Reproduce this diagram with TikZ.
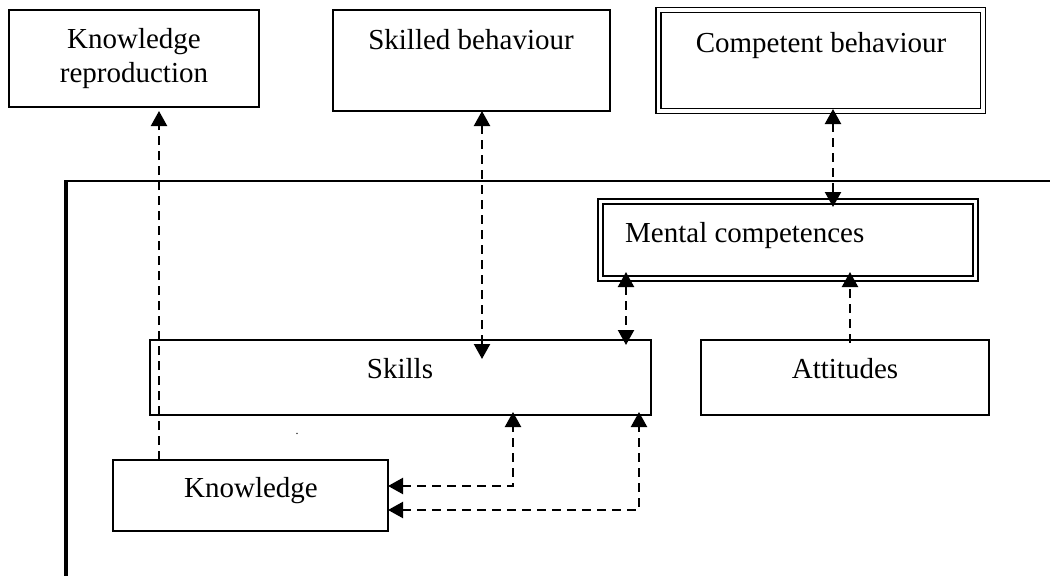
\documentclass[tikz,border=0pt]{standalone}
\usepackage{fontspec}
\setmainfont{Liberation Serif}
\usetikzlibrary{arrows.meta,calc}
\begin{document}
\begin{tikzpicture}[x=1pt,y=-1pt,
  box/.style={draw=black, line width=1.6pt, rectangle, inner sep=0pt, outer sep=0pt},
  dbox/.style={draw=black, double=white, double distance=3.2pt, line width=1.8pt, rectangle, inner sep=0pt, outer sep=0pt},
  lbl/.style={font=\fontsize{29}{34}\selectfont, inner sep=0pt, anchor=base, align=center},
  conn/.style={line width=2.2pt, dash pattern=on 9pt off 6pt, >={Triangle[width=16pt,length=15pt]}}
]
\useasboundingbox (0,0) rectangle (1050,576);

% boxes
\node[box, minimum width=250pt, minimum height=97pt] (kr) at (134,58.5) {};
\node[box, minimum width=277pt, minimum height=101pt] (sb) at (471.5,60.5) {};
\node[dbox, minimum width=324.6pt, minimum height=101pt] (cb) at (820.7,60.5) {};
\node[dbox, minimum width=375pt, minimum height=77pt] (mc) at (788,240) {};
\node[box, minimum width=501pt, minimum height=75pt] (sk) at (400.5,377.5) {};
\node[box, minimum width=288pt, minimum height=75pt] (at) at (845,377.5) {};
\node[box, minimum width=275pt, minimum height=71pt] (kn) at (250.5,495.5) {};

% texts
\node[lbl] (krt) at (134,82) {Knowledge\\reproduction};
\node[lbl] (sbt) at (471,49.5) {Skilled behaviour};
\node[lbl] (cbt) at (821,52) {Competent behaviour};
\node[lbl, anchor=base west] (mct) at (625,242) {Mental competences};
\node[lbl] (skt) at (400,378) {Skills};
\node[lbl] (att) at (845,378) {Attitudes};
\node[lbl] (knt) at (251,497) {Knowledge};
\node[lbl, font=\fontsize{12}{14}\selectfont] (dot) at (297,434) {.};

% frame
\draw[line width=2.2pt] (1050,181) -- (65,181);
\draw[line width=4pt] (66,180) -- (66,576);

% column / row coordinates
\coordinate (c1) at (159,0);
\coordinate (c2) at (482,0);
\coordinate (c3) at (833,0);
\coordinate (c4) at (626,0);
\coordinate (c5) at (850,0);
\coordinate (c6) at (513,0);
\coordinate (c7) at (639,0);
\coordinate (r1) at (0,486);
\coordinate (r2) at (0,510);

% connectors
\draw[conn,->, shorten >=4pt] (kn.north -| c1) -- (kr.south -| c1);
\draw[conn,<->, shorten >=-19pt] (sb.south -| c2) -- (sk.north -| c2);
\draw[conn,<->, shorten <=-2pt, shorten >=-5.5pt] (cb.south -| c3) -- (mc.north -| c3);
\draw[conn,<->, shorten <=-6.5pt, shorten >=-5pt] (mc.south -| c4) -- (sk.north -| c4);
\draw[conn,->, shorten <=-3pt, shorten >=-6.5pt] (at.north -| c5) -- (mc.south -| c5);
\draw[conn,<->, shorten >=-3pt] (kn.east |- r1) -- (c6 |- r1) -- (sk.south -| c6);
\draw[conn,<->, shorten >=-3pt] (kn.east |- r2) -- (c7 |- r2) -- (sk.south -| c7);
\end{tikzpicture}
\end{document}
